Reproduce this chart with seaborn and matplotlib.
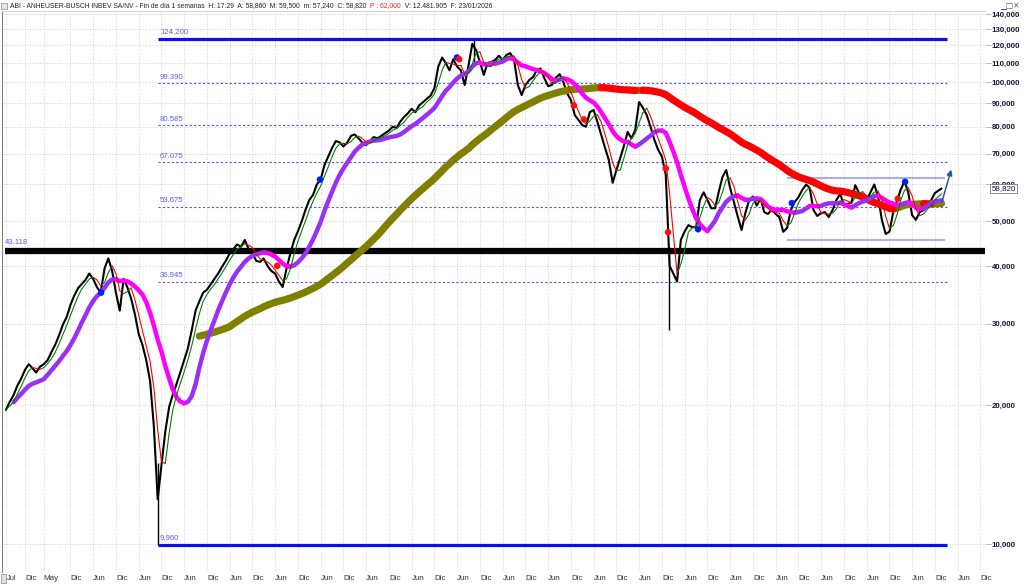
import numpy as np
import pandas as pd
import matplotlib
matplotlib.use("Agg")
import matplotlib.pyplot as plt
import matplotlib.transforms as mtransforms
from matplotlib.patches import Rectangle, FancyArrowPatch
import seaborn as sns

sns.set_theme(style="white")
plt.rcParams['font.family'] = ['Liberation Sans', 'DejaVu Sans']

# ---------------- data (monthly closes) ----------------
first_month = "2005-07-01"
last_date = "2026-01-23"
price = [
    19.5, 20.3, 21.0, 22.0, 22.8, 23.8, 24.5, 24.0, 23.5, 24.2,
    24.5, 25.0, 26.0, 27.0, 28.3, 29.8, 31.0, 32.9, 34.5, 35.8,
    36.5, 37.3, 38.5, 37.5, 36.0, 35.0, 39.5, 41.5, 39.0, 35.0,
    32.0, 37.5, 36.0, 34.0, 31.5, 28.5, 27.0, 25.0, 22.5, 18.0,
    12.5, 14.8, 17.5, 19.8, 21.0, 22.2, 23.5, 25.0, 26.5, 29.0,
    32.0, 33.5, 35.0, 35.5, 36.5, 37.5, 38.5, 39.8, 41.0, 42.5,
    43.5, 44.5, 44.0, 45.5, 43.5, 42.5, 41.0, 40.8, 41.5, 40.0,
    39.0, 38.5, 37.0, 36.0, 39.5, 42.5, 45.5, 47.5, 50.0, 53.0,
    55.5, 57.0, 60.0, 61.5, 66.0, 69.0, 72.0, 74.5, 74.0, 72.5,
    74.0, 76.5, 77.0, 75.5, 74.0, 73.0, 74.5, 76.0, 75.5, 76.5,
    77.5, 78.5, 80.0, 79.5, 82.0, 84.0, 85.5, 87.5, 86.0, 89.0,
    90.5, 92.0, 93.5, 97.0, 108.0, 113.0, 110.0, 106.0, 112.0, 108.0,
    106.0, 98.5, 108.8, 121.0, 117.0, 110.5, 103.6, 110.0, 110.5, 111.6,
    114.0, 111.6, 114.4, 115.5, 111.6, 98.5, 93.7, 98.5, 101.0, 102.5,
    106.0, 107.0, 102.0, 98.0, 98.5, 102.0, 104.0, 100.0, 94.5, 91.4,
    84.8, 82.7, 80.7, 80.0, 86.0, 87.0, 82.0, 76.8, 72.0, 67.8,
    60.5, 64.5, 68.5, 73.0, 78.0, 75.5, 78.7, 90.5, 88.0, 84.8,
    80.0, 75.0, 71.3, 69.0, 63.0, 40.0, 38.5, 37.0, 45.5, 47.5,
    49.0, 48.5, 48.5, 55.5, 57.7, 55.5, 53.3, 53.3, 57.7, 62.3,
    64.5, 59.0, 55.0, 51.2, 47.8, 52.0, 55.5, 56.5, 54.0, 56.0,
    52.3, 51.8, 53.0, 51.8, 51.0, 47.4, 48.3, 52.8, 55.0, 56.3,
    58.4, 60.0, 59.0, 52.8, 51.3, 52.0, 52.3, 51.0, 52.8, 55.5,
    57.2, 54.2, 54.4, 55.0, 59.8, 57.5, 56.3, 55.5, 57.7, 60.0,
    56.5, 50.3, 46.9, 47.4, 52.3, 55.5, 58.4, 61.0, 57.7, 51.5,
    50.3, 52.3, 52.8, 54.0, 55.5, 57.5,
    58.82,
]
ma_windows = {"short": 3, "mid": 11, "long": 60}
ma_min_periods = {"short": 1, "mid": 3, "long": 52}

# extreme bar ranges (decimal year, low, high)
wick_x = [2008.84, 2015.78, 2020.06]
wick_low = [9.96, 110.0, 29.0]
wick_high = [15.0, 124.2, 44.0]

# signal dots (decimal year, price)
blue_sig_x = [2007.59, 2012.40, 2015.41, 2020.71, 2022.77, 2025.26]
blue_sig_y = [35.0, 61.5, 113.0, 48.0, 54.7, 60.8]
red_sig_x = [2011.46, 2015.46, 2017.98, 2018.20, 2020.00, 2020.05, 2025.10]
red_sig_y = [40.0, 112.0, 89.0, 83.0, 65.0, 47.3, 55.9]

# level lines
fib_levels = [99.390, 80.585, 67.075, 53.675, 36.945]
fib_labels = ["99.390", "80.585", "67.075", "53.675", "36.945"]
range_levels = [124.200, 9.960]
range_labels = ["124.200", "9.960"]
support_level = 43.118
support_label = "43.118"
channel_levels = [62.0, 45.6]
arrow_from = (2026.05, 54.2)
arrow_to = (2026.29, 65.5)

yticks = [10, 20, 30, 40, 50, 60, 70, 80, 90, 100, 110, 120, 130, 140]
ytick_labels = ["10,000", "20,000", "30,000", "40,000", "50,000", "60,000", "70,000",
                "80,000", "90,000", "100,000", "110,000", "120,000", "130,000", "140,000"]

title_main = ("ABI - ANHEUSER-BUSCH INBEV SA/NV - Fin de día 1 semanas  H: 17:29  "
              "A: 58,860  M: 59,500  m: 57,240  C: 58,820  ")
title_red = "P : 62,000"
title_rest = "  V: 12.481.905  F: 23/01/2026"
last_tag = "58,820"

# ---------------- helpers ----------------
def dec_year(ts):
    ts = pd.Timestamp(ts)
    return ts.year + (ts.dayofyear - 1) / (366 if ts.is_leap_year else 365)

dates = list(pd.date_range(first_month, periods=len(price) - 1, freq="MS")) + [pd.Timestamp(last_date)]
xs = np.array([dec_year(d) for d in dates])
ps = pd.Series(price, dtype=float)
df_price = pd.DataFrame({"x": xs, "y": ps.values})


def slope_frame(x, y):
    rows = []
    seg = 0
    n = len(y)
    i = 0
    while i < n - 1:
        if np.isnan(y[i]) or np.isnan(y[i + 1]):
            i += 1
            continue
        up = y[i + 1] >= y[i]
        j = i
        while j < n - 1 and not np.isnan(y[j + 1]) and ((y[j + 1] >= y[j]) == up):
            j += 1
        for k in range(i, j + 1):
            rows.append((x[k], y[k], seg, "up" if up else "down"))
        seg += 1
        i = j
    return pd.DataFrame(rows, columns=["x", "y", "seg", "dir"])


ma = {k: ps.rolling(w, min_periods=ma_min_periods[k]).mean().values for k, w in ma_windows.items()}

# ---------------- figure ----------------
W, H = 1024, 588
fig = plt.figure(figsize=(W / 100, H / 100), dpi=100)
fig.patch.set_facecolor("white")
ax_left, ax_right, ax_top, ax_bot = 2, 985, 11, 572
ax = fig.add_axes([ax_left / W, 1 - ax_bot / H, (ax_right - ax_left) / W, (ax_bot - ax_top) / H])
ax.set_facecolor("white")


def px2yr(px):
    return 2025.917 + (px - 935) / 45.5


x0, x1 = px2yr(ax_left), px2yr(ax_right)
ax.set_yscale("log")
ax.set_xlim(x0, x1)
ax.set_ylim(10 ** (2 - (ax_bot - 82) / 462), 10 ** (2 + (82 - ax_top) / 462))

# grid
grid_kw = dict(color="#c4c4c4", lw=0.6, ls=(0, (1, 2)), zorder=0)
for v in yticks:
    ax.axhline(v, **grid_kw)

# x ticks
tick_dates = ["2005-12-01", "2006-05-01", "2006-12-01"]
tick_names = ["Dic", "May", "Dic"]
for yr in range(2007, 2027):
    tick_dates += [f"{yr}-06-01", f"{yr}-12-01"]
    tick_names += ["Jun", "Dic"]
tick_pos = [dec_year(d) for d in tick_dates]
for tp in [dec_year("2005-07-01")] + tick_pos:
    ax.axvline(tp, **grid_kw)

# level lines
lx0, lx1, lab_x = px2yr(158), px2yr(947), px2yr(160)
lab_kw = dict(fontsize=5.6, color="#5b5bff", va="bottom", ha="left")
for lv, lb in zip(fib_levels, fib_labels):
    ax.hlines(lv, lx0, lx1, colors="#5050ff", lw=0.8, linestyles=(0, (2, 2)), zorder=1)
    ax.text(lab_x, lv * 1.012, lb, **lab_kw)
for lv, lb in zip(range_levels, range_labels):
    ax.hlines(lv, lx0, lx1, colors="#0a10f0", lw=2.3, zorder=3)
    ax.text(lab_x, lv * 1.014, lb, **lab_kw)
for lv in channel_levels:
    ax.hlines(lv, px2yr(787), px2yr(945), colors="#9c9cf2", lw=1.2, zorder=1)
ax.hlines(support_level, px2yr(5), x1, colors="black", lw=4.5, zorder=3)
ax.text(px2yr(5), support_level * 1.022, support_label, **lab_kw)

# price
sns.lineplot(data=df_price, x="x", y="y", color="black", lw=1.5, ax=ax, zorder=2,
             estimator=None, sort=False)
ax.vlines(wick_x, wick_low, wick_high, colors="black", lw=1.0, zorder=2)

# moving averages coloured by slope
ma_specs = [
    (ma["long"], "#808000", "#ff0000", 5.2, 4),
    (ma["mid"], "#9a30f5", "#ff00ff", 3.2, 5),
    (ma["short"], "#008000", "#ff0000", 0.8, 6),
]
for vals, cu, cd, lw, zo in ma_specs:
    dfm = slope_frame(xs, vals)
    sns.lineplot(data=dfm, x="x", y="y", hue="dir", units="seg", estimator=None,
                 palette={"up": cu, "down": cd}, lw=lw, legend=False, ax=ax,
                 sort=False, zorder=zo, solid_capstyle="round", solid_joinstyle="round")

# signal dots
sns.scatterplot(x=blue_sig_x, y=blue_sig_y, color="#0020ff", s=22, edgecolor="none", ax=ax, zorder=7)
sns.scatterplot(x=red_sig_x, y=red_sig_y, color="#ff1010", s=22, edgecolor="none", ax=ax, zorder=7)

# arrow
ax.add_patch(FancyArrowPatch(arrow_from, arrow_to, arrowstyle="-|>", mutation_scale=8,
                             color="#1f5a9e", lw=1.1, zorder=8))

# axes cosmetics
ax.set_xlabel("")
ax.set_ylabel("")
ax.yaxis.tick_right()
ax.yaxis.set_label_position("right")
ax.set_yticks(yticks)
ax.set_yticklabels(ytick_labels)
ax.yaxis.set_minor_locator(matplotlib.ticker.NullLocator())
ax.tick_params(axis="y", which="major", length=4, width=0.6, color="#b0b0b0", pad=1.0,
               labelsize=5.7, labelcolor="#15153a")
for lbl in ax.get_yticklabels():
    lbl.set_fontweight("bold")
ax.set_xticks(tick_pos)
ax.set_xticklabels(tick_names)
ax.tick_params(axis="x", length=0, pad=2.5, labelsize=5.8, labelcolor="#333333")
for lbl in ax.get_xticklabels():
    lbl.set_horizontalalignment("left")
for s in ["right", "bottom"]:
    ax.spines[s].set_visible(False)
ax.spines["left"].set_color("#808080")
ax.spines["left"].set_linewidth(0.8)
ax.spines["top"].set_color("#d0d0d0")
ax.spines["top"].set_linewidth(0.6)

# last price tag
trans = mtransforms.blended_transform_factory(ax.transAxes, ax.transData)
ax.text(1.0065, price[-1], last_tag, transform=trans, fontsize=5.7, color="#15153a",
        va="center", ha="left", zorder=10,
        bbox=dict(boxstyle="square,pad=0.18", fc="white", ec="#777777", lw=0.6))

# title bar
fig.add_artist(Rectangle((1 / W, 1 - 9 / H), 6 / W, 6 / H, transform=fig.transFigure,
                         fc="#e8e8e8", ec="#888888", lw=0.5))
t1 = fig.text(10 / W, 1 - 6 / H, title_main, fontsize=4.9, color="#222222", va="center", ha="left")
fig.canvas.draw()
r = fig.canvas.get_renderer()
bb = t1.get_window_extent(r)
t2 = fig.text(bb.x1 / W, 1 - 6 / H, title_red, fontsize=4.9, color="#ff2020", va="center", ha="left")
bb2 = t2.get_window_extent(r)
fig.text(bb2.x1 / W, 1 - 6 / H, title_rest, fontsize=4.9, color="#222222", va="center", ha="left")
fig.text(1020 / W, 1 - 5 / H, "\u2581\u25a1\u00d7", fontsize=5.5, color="#555555",
         va="center", ha="right", family=["DejaVu Sans"])

# bottom-left: scroll icon and first month label
fig.add_artist(Rectangle((0.5 / W, 1 - 583 / H), 5 / W, 9 / H, transform=fig.transFigure,
                         fc="#e0e0e0", ec="#888888", lw=0.5, zorder=5))
fig.text(7 / W, 1 - 578 / H, "Jul", fontsize=5.3, color="#333333", va="center", ha="left")

fig.savefig("out.png", dpi=100)
